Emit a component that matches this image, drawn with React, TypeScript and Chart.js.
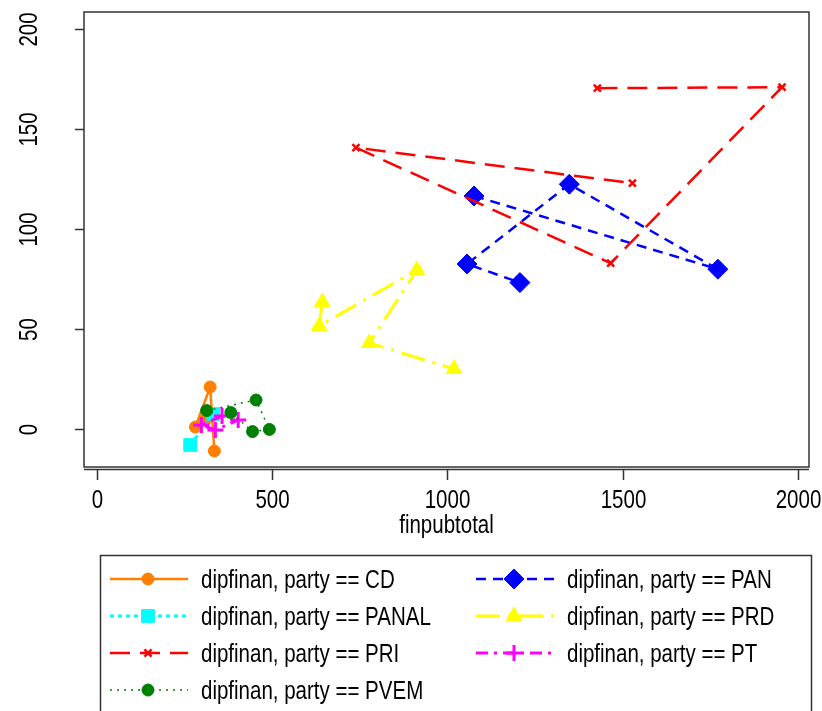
import React, { useEffect, useRef } from "react";
import { Chart, registerables, PointElement } from "chart.js";

Chart.register(...registerables);

// ---- data ----
const xTickValues = [0, 500, 1000, 1500, 2000];
const yTickValues = [0, 50, 100, 150, 200];
const xAxisTitle = "finpubtotal";

const cdX = [309, 281, 323, 335];
const cdY = [4.5, 1, 21, -11];

const panX = [1076, 1772, 1348, 1056, 1207];
const panY = [116.5, 79.9, 122.4, 82.5, 73.2];

const panalX = [266, 332];
const panalY = [-8, 7.5];

const prdX = [643, 634, 913, 777, 1019];
const prdY = [63.5, 51.5, 79.5, 43, 30];

const priX = [1428, 1955, 1466, 739, 1528];
const priY = [170.4, 170.9, 82.9, 140.7, 122.9];

const ptX = [357, 298, 338, 403];
const ptY = [6.5, 2, -0.5, 4.5];

const pvemX = [313, 454, 492, 444, 382];
const pvemY = [9.2, 14.5, -0.2, -1.3, 8.2];

const legendLabels = [
  "dipfinan, party == CD",
  "dipfinan, party == PAN",
  "dipfinan, party == PANAL",
  "dipfinan, party == PRD",
  "dipfinan, party == PRI",
  "dipfinan, party == PT",
  "dipfinan, party == PVEM",
];

// ---- styles ----
type Style = {
  color: string;
  dash: number[];
  width: number;
  pointStyle: string;
  radius: number;
  pointBorder: number;
  filled: boolean;
};

const styles: Style[] = [
  { color: "#ff7f00", dash: [], width: 2.5, pointStyle: "circle", radius: 6, pointBorder: 1, filled: true },
  { color: "#0000ff", dash: [10, 7], width: 2.5, pointStyle: "rectRot", radius: 10, pointBorder: 1, filled: true },
  { color: "#00ffff", dash: [4, 4], width: 3, pointStyle: "rect", radius: 9, pointBorder: 1, filled: true },
  { color: "#ffff00", dash: [24, 8, 3, 8], width: 3, pointStyle: "triangle", radius: 9, pointBorder: 1, filled: true },
  { color: "#ff0000", dash: [20, 10], width: 2.5, pointStyle: "crossRot", radius: 5, pointBorder: 2.5, filled: false },
  { color: "#ff00ff", dash: [12, 6, 3, 6], width: 3, pointStyle: "cross", radius: 8, pointBorder: 3, filled: false },
  { color: "#008000", dash: [2, 5], width: 1.5, pointStyle: "circle", radius: 6, pointBorder: 1, filled: true },
];

const seriesX = [cdX, panX, panalX, prdX, priX, ptX, pvemX];
const seriesY = [cdY, panY, panalY, prdY, priY, ptY, pvemY];

const FONT = '25px "Liberation Sans", Arial, sans-serif';
const SX = 0.82;

function drawText(ctx: CanvasRenderingContext2D, text: string, x: number, y: number, align: CanvasTextAlign, baseline: CanvasTextBaseline, rot = 0) {
  ctx.save();
  ctx.translate(x, y);
  if (rot) ctx.rotate(rot);
  ctx.scale(SX, 1);
  ctx.font = FONT;
  ctx.fillStyle = "#000";
  ctx.textAlign = align;
  ctx.textBaseline = baseline;
  ctx.fillText(text, 0, 0);
  ctx.restore();
}

function drawMarker(ctx: CanvasRenderingContext2D, s: Style, x: number, y: number) {
  const pt: any = new (PointElement as any)({});
  pt.x = x;
  pt.y = y;
  pt.options = {
    pointStyle: s.pointStyle,
    radius: s.radius,
    rotation: 0,
    borderWidth: s.pointBorder,
    borderColor: s.color,
    backgroundColor: s.color,
  };
  pt.draw(ctx, { left: -10, top: -10, right: 2000, bottom: 2000 });
}

const decorPlugin = {
  id: "decor",
  beforeDatasetsDraw(chart: any) {
    const ctx: CanvasRenderingContext2D = chart.ctx;
    const ca = chart.chartArea;
    const xs = chart.scales.x;
    const ys = chart.scales.y;
    ctx.save();
    ctx.strokeStyle = "#333";
    ctx.lineWidth = 1.5;
    ctx.setLineDash([]);
    ctx.strokeRect(ca.left, ca.top, ca.right - ca.left, ca.bottom - ca.top);
    ctx.beginPath();
    ctx.moveTo(ca.left, ca.bottom + 2.5);
    ctx.lineTo(ca.right, ca.bottom + 2.5);
    ctx.stroke();
    // x ticks
    for (const v of xTickValues) {
      const px = Math.round(xs.getPixelForValue(v)) + 0.5;
      ctx.beginPath();
      ctx.moveTo(px, ca.bottom + 2.5);
      ctx.lineTo(px, ca.bottom + 13);
      ctx.stroke();
      drawText(ctx, String(v), px, ca.bottom + 41, "center", "alphabetic");
    }
    // y ticks
    for (const v of yTickValues) {
      const py = Math.round(ys.getPixelForValue(v)) + 0.5;
      ctx.beginPath();
      ctx.moveTo(ca.left - 9, py);
      ctx.lineTo(ca.left, py);
      ctx.stroke();
      drawText(ctx, String(v), ca.left - 47, py, "center", "alphabetic", -Math.PI / 2);
    }
    drawText(ctx, xAxisTitle, (ca.left + ca.right) / 2, ca.bottom + 66, "center", "alphabetic");
    ctx.restore();
  },
  afterDraw(chart: any) {
    const ctx: CanvasRenderingContext2D = chart.ctx;
    ctx.save();
    ctx.strokeStyle = "#333";
    ctx.lineWidth = 1.5;
    ctx.setLineDash([]);
    ctx.strokeRect(100.5, 555.5, 711, 200);
    const rowY = [579, 616, 653, 690];
    const colX = [110, 476];
    const textX = [201, 567];
    legendLabels.forEach((label, i) => {
      const s = styles[i];
      const r = Math.floor(i / 2);
      const c = i % 2;
      const y = rowY[r];
      const x0 = colX[c];
      ctx.save();
      ctx.strokeStyle = s.color;
      ctx.lineWidth = s.width;
      ctx.setLineDash(s.dash);
      ctx.beginPath();
      ctx.moveTo(x0, y);
      ctx.lineTo(x0 + 78, y);
      ctx.stroke();
      ctx.setLineDash([]);
      drawMarker(ctx, s, x0 + 38, y);
      ctx.restore();
      drawText(ctx, label, textX[c], y + 9, "left", "alphabetic");
    });
    ctx.restore();
  },
};

export default function App() {
  const ref = useRef<HTMLCanvasElement | null>(null);
  useEffect(() => {
    document.body.style.margin = "0";
    const canvas = ref.current;
    if (!canvas) return;
    const datasets = styles
      .map((s, i) => ({
        label: legendLabels[i],
        data: seriesX[i].map((x, j) => ({ x, y: seriesY[i][j] })),
        showLine: true,
        borderColor: s.color,
        borderWidth: s.width,
        borderDash: s.dash,
        tension: 0,
        pointStyle: s.pointStyle,
        pointRadius: s.radius,
        pointBorderWidth: s.pointBorder,
        pointBorderColor: s.color,
        pointBackgroundColor: s.color,
        fill: false,
      }))
      .reverse();
    const chart = new Chart(canvas, {
      type: "scatter",
      data: { datasets: datasets as any },
      options: {
        animation: false,
        responsive: false,
        devicePixelRatio: 1,
        layout: { padding: { left: 84, top: 12, right: 13, bottom: 244 } },
        plugins: { legend: { display: false }, tooltip: { enabled: false } },
        scales: {
          x: { type: "linear", min: -37, max: 2032, display: false },
          y: { type: "linear", min: -19, max: 208.5, display: false },
        },
      },
      plugins: [decorPlugin as any],
    });
    return () => chart.destroy();
  }, []);
  return (
    <div style={{ width: 822, height: 711, background: "#fff" }}>
      <canvas ref={ref} width={822} height={711} style={{ display: "block", width: 822, height: 711 }} />
    </div>
  );
}
